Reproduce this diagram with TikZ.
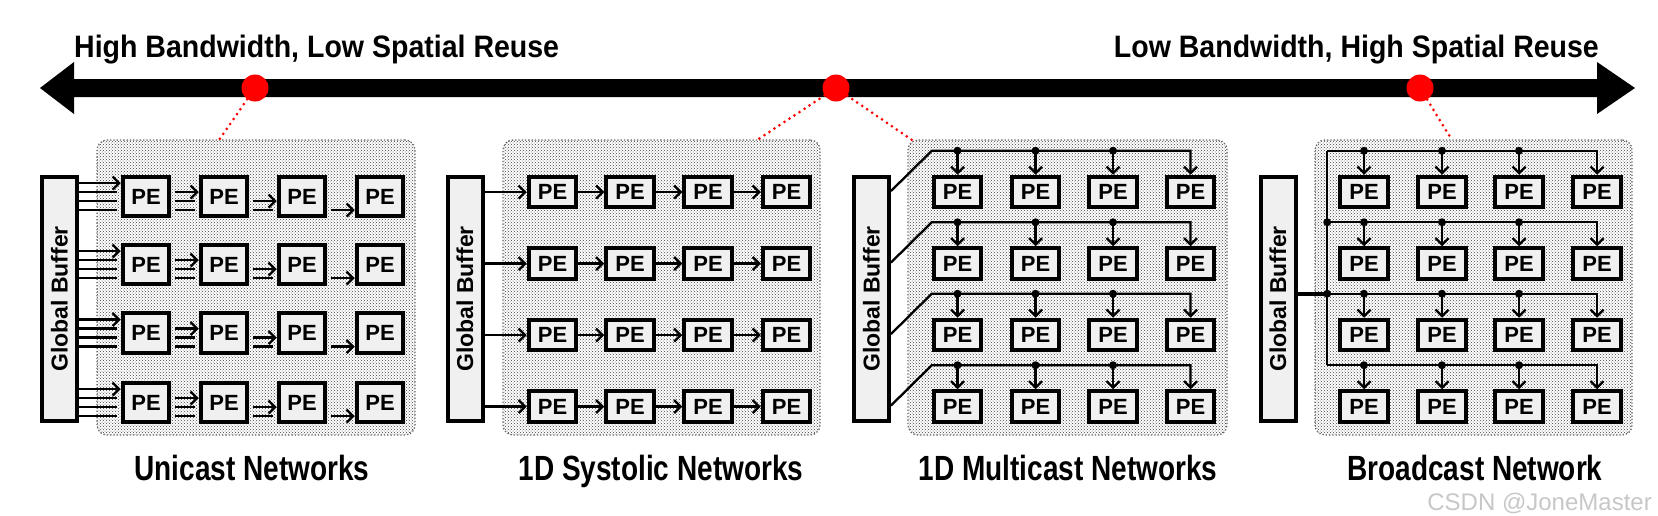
\documentclass[tikz,border=0pt]{standalone}
\usepackage{fontspec}
\setmainfont{Liberation Sans}
\newfontfamily\titlefont[FakeStretch=0.92]{Liberation Sans}
\newfontfamily\labelfont[FakeStretch=0.8]{Liberation Sans}
\usetikzlibrary{arrows.meta,patterns,calc}
\tikzset{
 pebox/.style={draw, line width=4pt, fill=black!6, inner sep=0pt, font=\fontsize{22}{22}\selectfont\bfseries},
 pebig/.style={pebox, minimum width=46.5pt, minimum height=39.5pt},
 pesmall/.style={pebox, minimum width=47.5pt, minimum height=30.5pt},
 gbuf/.style={draw, line width=4pt, fill=black!6, minimum width=35pt, minimum height=244pt, inner sep=0pt},
 gbtext/.style={rotate=90, inner sep=0pt, font=\fontsize{23}{23}\selectfont\bfseries},
 panel/.style={draw=black!60, dotted, line width=1.3pt, rounded corners=10pt, pattern=crosshatch dots, pattern color=black!75, minimum height=295pt, inner sep=0pt},
 conn/.style={line width=2.3pt, -{Straight Barb[length=6.5pt,width=13pt]}},
 wire/.style={line width=2.3pt},
 tap/.style={circle, fill=black, inner sep=0pt, minimum size=8pt},
 reddot/.style={circle, fill=red, inner sep=0pt, minimum size=27pt},
 redlink/.style={red, line width=3pt, line cap=round, dash pattern=on 0pt off 6pt},
 title/.style={font=\titlefont\fontsize{31}{31}\selectfont\bfseries, inner sep=0pt},
 caption/.style={font=\labelfont\fontsize{35}{35}\selectfont\bfseries, inner sep=0pt, anchor=base},
}
\begin{document}
\begin{tikzpicture}[x=1pt,y=-1pt]
\useasboundingbox (0,0) rectangle (1658,515);

% big double arrow
\fill (40,88) -- (74,62) -- (74,79) -- (1597,79) -- (1597,62) -- (1635,88)
      -- (1597,114) -- (1597,97) -- (74,97) -- (74,114) -- cycle;
\node[title, anchor=base west] (tl) at (74,57) {High Bandwidth, Low Spatial Reuse};
\node[title, anchor=base east] (tr) at (1599,57) {Low Bandwidth, High Spatial Reuse};

% panels
\node[panel, minimum width=318pt] (p1) at (256,287.5) {};
\node[panel, minimum width=317pt] (p2) at (661.5,287.5) {};
\node[panel, minimum width=319pt] (p3) at (1067.5,287.5) {};
\node[panel, minimum width=317pt] (p4) at (1473.5,287.5) {};

% red markers
\node[reddot] (r1) at (255,88) {};
\node[reddot] (r2) at (836,88) {};
\node[reddot] (r3) at (1420,88) {};
\coordinate (e1) at (219,140);
\coordinate (e2) at (757,140);
\coordinate (e3) at (912,140);
\coordinate (e4) at (1452,140);
\draw[redlink] (r1) -- (e1);
\draw[redlink] (r2) -- (e2);
\draw[redlink] (r2) -- (e3);
\draw[redlink] (r3) -- (e4);

% global buffers
\foreach \i/\x in {1/59.5,2/465,3/871.5,4/1278} {
  \node[gbuf] (g\i) at (\x,299) {};
  \node[gbtext] (gt\i) at (g\i) {Global Buffer};
}

% ---------- Unicast ----------
\foreach \r/\y in {1/196.5,2/264.5,3/333,4/402.5}
  \foreach \c/\x in {1/146,2/224,3/302,4/380}
    \node[pebig] (a\r\c) at (\x,\y) {PE};
\foreach \r in {1,2,3,4} {
  \draw[conn] ($(g1.east |- a\r1)+(0,-13.5)$) -- ($(a\r1.west)+(0,-13.5)$);
  \foreach \dy in {-4.5,4.5,13.5}
    \draw[wire] ($(g1.east |- a\r1)+(0,\dy)$) -- ($(a\r1.west)+(-4,\dy)$);
  \draw[conn] ($(a\r1.east)+(4,-4.5)$) -- ($(a\r2.west)+(0,-4.5)$);
  \foreach \dy in {4.5,13.5}
    \draw[wire] ($(a\r1.east)+(4,\dy)$) -- ($(a\r2.west)+(-4,\dy)$);
  \draw[conn] ($(a\r2.east)+(4,4.5)$) -- ($(a\r3.west)+(0,4.5)$);
  \draw[wire] ($(a\r2.east)+(4,13.5)$) -- ($(a\r3.west)+(-4,13.5)$);
  \draw[conn] ($(a\r3.east)+(4,13.5)$) -- ($(a\r4.west)+(0,13.5)$);
}

% ---------- 1D Systolic ----------
\foreach \r/\y in {1/192,2/263.5,3/335,4/406.5}
  \foreach \c/\x in {1/552.5,2/630,3/708,4/786.5}
    \node[pesmall] (b\r\c) at (\x,\y) {PE};
\foreach \r in {1,2,3,4} {
  \draw[conn] (g2.east |- b\r1) -- (b\r1.west);
  \draw[conn] (b\r1) -- (b\r2);
  \draw[conn] (b\r2) -- (b\r3);
  \draw[conn] (b\r3) -- (b\r4);
}

% ---------- 1D Multicast ----------
\foreach \r/\y in {1/192,2/263.5,3/335,4/406.5}
  \foreach \c/\x in {1/957.5,2/1035.5,3/1113,4/1190.5}
    \node[pesmall] (c\r\c) at (\x,\y) {PE};
\foreach \r in {1,2,3,4} {
  \coordinate (mk\r) at ($(c\r1.north west)+(0,-24)$);
  \draw[conn] ($(g3.east |- c\r1)+(0,-1)$) -- (mk\r) -| (c\r4.north);
  \foreach \c in {1,2,3} {
    \node[tap] (mt\r\c) at (mk\r -| c\r\c) {};
    \draw[conn] (mt\r\c.center) -- (c\r\c.north);
  }
}

% ---------- Broadcast ----------
\foreach \r/\y in {1/192,2/263.5,3/335,4/406.5}
  \foreach \c/\x in {1/1364,2/1442,3/1519,4/1597}
    \node[pesmall] (d\r\c) at (\x,\y) {PE};
\foreach \r in {1,2,3,4}
  \coordinate (sp\r) at ($(d\r1.north west)+(-11,-24)$);
\draw[wire] (sp1) -- (sp4);
\draw[line width=4pt] (g4.east |- sp3) -- (sp3);
\foreach \r in {1,2,3,4} {
  \draw[conn] (sp\r) -| (d\r4.north);
  \foreach \c in {1,2,3} {
    \node[tap] (bt\r\c) at (sp\r -| d\r\c) {};
    \draw[conn] (bt\r\c.center) -- (d\r\c.north);
  }
}
\node[tap] (j2) at (sp2) {};
\node[tap] (j3) at (sp3) {};

% captions
\node[caption] (c1l) at (252,480) {Unicast Networks};
\node[caption] (c2l) at (661,480) {1D Systolic Networks};
\node[caption] (c3l) at (1068,480) {1D Multicast Networks};
\node[caption] (c4l) at (1475,480) {Broadcast Network};

% watermark
\node[anchor=base east, inner sep=0pt, text=black!22, font=\fontsize{24}{24}\selectfont] (wm) at (1652,510) {CSDN @JoneMaster};
\end{tikzpicture}
\end{document}
